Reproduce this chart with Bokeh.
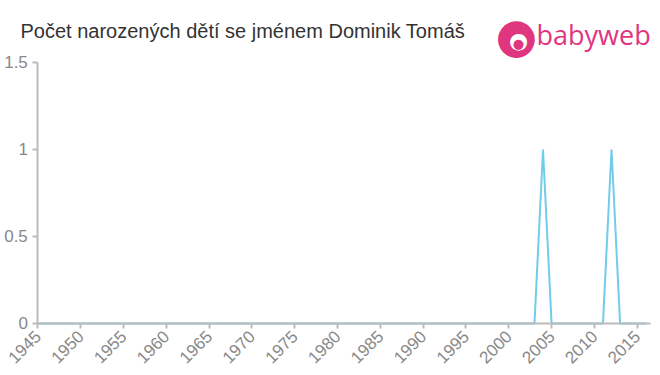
import math
from bokeh.plotting import figure
from bokeh.models import Range1d, FixedTicker, Label
from bokeh.embed import file_html
from bokeh.resources import INLINE

years = list(range(1945, 2017))
births = {2004: 1, 2012: 1}
counts = [births.get(y, 0) for y in years]
x_ticks = list(range(1945, 2020, 5))
y_ticks = [0, 0.5, 1, 1.5]
title_text = "Počet narozených dětí se jménem Dominik Tomáš"
logo_text = "babyweb"

# frame spans the whole canvas, so the header texts (title, logo) and the
# axis labels can live inside it; axes are fixed and bounded to the data area
p = figure(width=660, height=375, output_backend="svg", toolbar_location=None,
           x_range=Range1d(1940.64, 2017.72), y_range=Range1d(-0.2989, 1.856),
           min_border_left=0, min_border_right=0, min_border_top=0, min_border_bottom=0)
p.outline_line_color = None
p.xgrid.grid_line_color = None
p.ygrid.grid_line_color = None

p.line(years, counts, line_color="#74cbea", line_width=2)

for ax in (p.xaxis[0], p.yaxis[0]):
    ax.axis_line_color = "#bbbbbb"
    ax.axis_line_width = 2
    ax.major_tick_line_color = "#bbbbbb"
    ax.major_tick_line_width = 2
    ax.major_tick_in = 0
    ax.major_tick_out = 5
    ax.minor_tick_line_color = None
    ax.major_label_text_color = "#888888"
    ax.major_label_text_font = "Liberation Sans"

p.xaxis[0].ticker = FixedTicker(ticks=x_ticks)
p.xaxis[0].bounds = (1945, 2016.5)
p.xaxis[0].fixed_location = 0
p.xaxis[0].major_label_orientation = math.pi / 4
p.xaxis[0].major_label_text_font_size = "17px"
p.yaxis[0].ticker = FixedTicker(ticks=y_ticks)
p.yaxis[0].bounds = (0, 1.5)
p.yaxis[0].fixed_location = 1945
p.yaxis[0].major_label_overrides = {0: "0", 0.5: "0.5", 1: "1", 1.5: "1.5"}
p.yaxis[0].major_label_text_font_size = "17px"

p.add_layout(Label(x=20, y=345, x_units="screen", y_units="screen", text=title_text,
                   text_baseline="middle",
                   text_font="Liberation Sans", text_font_size="20px", text_color="#333333"))
p.add_layout(Label(x=516, y=341, x_units="screen", y_units="screen", text="●",
                   text_align="center", text_baseline="middle",
                   text_font="DejaVu Sans", text_font_size="48px", text_color="#e0357f"))
p.add_layout(Label(x=518, y=335, x_units="screen", y_units="screen", text="●",
                   text_align="center", text_baseline="middle",
                   text_font="DejaVu Sans", text_font_size="22px", text_color="#ffffff"))
p.add_layout(Label(x=518, y=332, x_units="screen", y_units="screen", text="●",
                   text_align="center", text_baseline="middle",
                   text_font="DejaVu Sans", text_font_size="13px", text_color="#e0357f"))
p.add_layout(Label(x=536, y=341, x_units="screen", y_units="screen", text=logo_text,
                   text_baseline="middle",
                   text_font="Open Sans", text_font_size="27px", text_color="#e0357f"))

open("out.html", "w").write(file_html(p, INLINE))
